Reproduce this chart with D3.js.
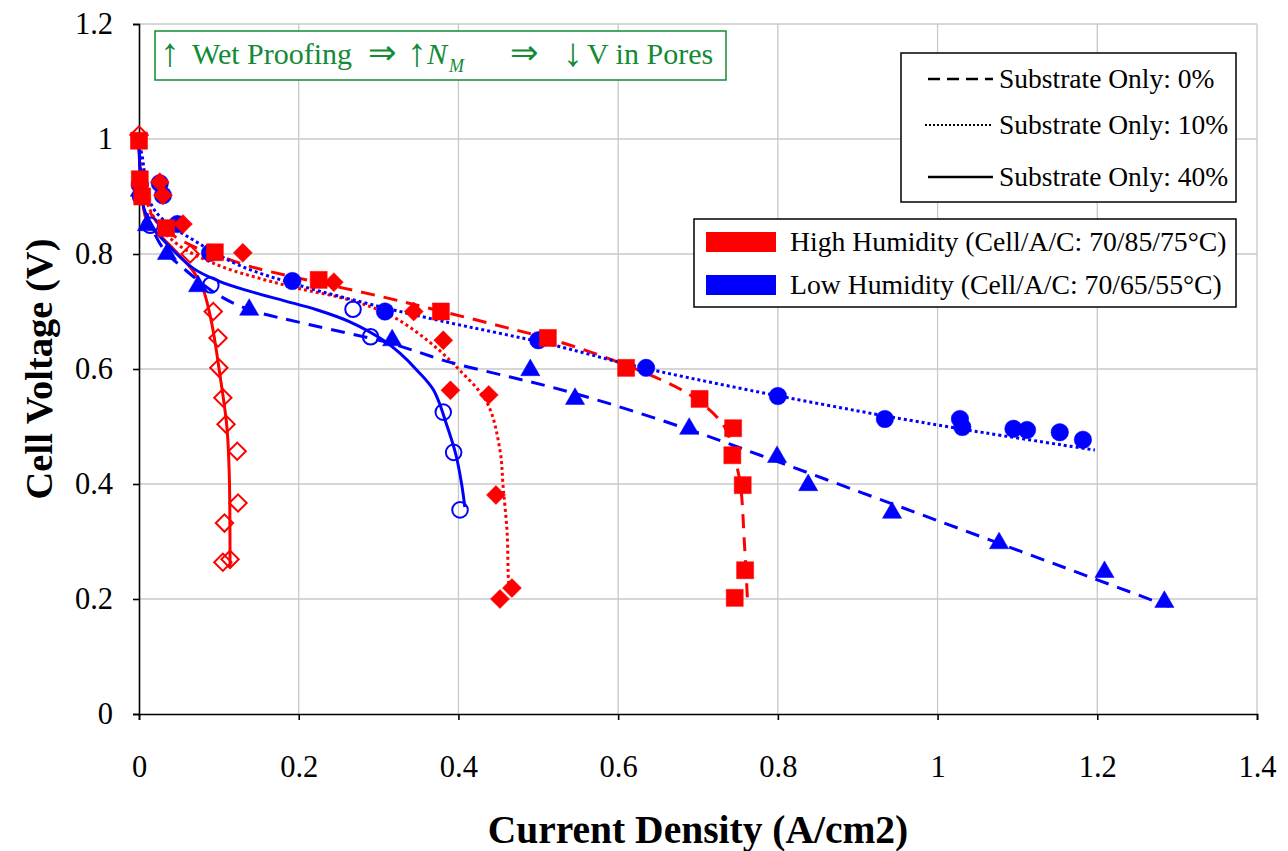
<!DOCTYPE html>
<html><head><meta charset="utf-8">
<script src="https://cdn.jsdelivr.net/npm/d3@7"></script>
<style>body{margin:0;background:#fff}svg{display:block}</style>
</head><body>
<svg id="c" width="1288" height="851"></svg>
<script>
// ---- data ----
const xTicks = [0, 0.2, 0.4, 0.6, 0.8, 1, 1.2, 1.4];
const yTicks = [0, 0.2, 0.4, 0.6, 0.8, 1, 1.2];

// High humidity, 0% (red squares)
const hh0_x = [0, 0.001, 0.004, 0.034, 0.095, 0.225, 0.378, 0.512, 0.61, 0.702, 0.744, 0.743, 0.756, 0.759, 0.746];
const hh0_y = [0.997, 0.93, 0.90, 0.845, 0.803, 0.755, 0.70, 0.654, 0.602, 0.548, 0.497, 0.45, 0.398, 0.25, 0.202];
// High humidity, 10% (red filled diamonds)
const hh10_x = [0.026, 0.03, 0.055, 0.13, 0.244, 0.344, 0.381, 0.39, 0.438, 0.447, 0.467, 0.452];
const hh10_y = [0.925, 0.902, 0.852, 0.802, 0.751, 0.70, 0.65, 0.563, 0.555, 0.381, 0.219, 0.20];
// High humidity, 40% (red open diamonds)
const hh40_x = [0, 0.064, 0.093, 0.099, 0.1, 0.105, 0.109, 0.123, 0.124, 0.107, 0.105, 0.114];
const hh40_y = [1.007, 0.80, 0.70, 0.654, 0.602, 0.55, 0.504, 0.457, 0.367, 0.332, 0.264, 0.269];
// Low humidity, 0% (blue triangles)
const lh0_x = [0.001, 0.01, 0.035, 0.074, 0.138, 0.317, 0.49, 0.546, 0.689, 0.799, 0.838, 0.943, 1.077, 1.209, 1.284];
const lh0_y = [0.91, 0.85, 0.80, 0.744, 0.703, 0.65, 0.598, 0.548, 0.496, 0.447, 0.398, 0.35, 0.297, 0.247, 0.195];
// Low humidity, 10% (blue filled circles)
const lh10_x = [0.001, 0.026, 0.03, 0.048, 0.089, 0.192, 0.308, 0.5, 0.635, 0.8, 0.934, 1.028, 1.031, 1.095, 1.112, 1.153, 1.182];
const lh10_y = [0.92, 0.923, 0.902, 0.852, 0.802, 0.753, 0.70, 0.65, 0.602, 0.553, 0.513, 0.513, 0.499, 0.496, 0.494, 0.49, 0.477];
// Low humidity, 40% (blue open circles)
const lh40_x = [0.002, 0.014, 0.09, 0.268, 0.29, 0.381, 0.394, 0.402];
const lh40_y = [0.90, 0.85, 0.746, 0.704, 0.656, 0.525, 0.455, 0.355];

// fitted model curves
const fhh0_x = [0, 0.003, 0.008, 0.02, 0.04, 0.07, 0.1, 0.14, 0.2, 0.3, 0.38, 0.46, 0.52, 0.6, 0.675, 0.705, 0.733, 0.745, 0.753, 0.758, 0.762];
const fhh0_y = [0.99, 0.93, 0.89, 0.86, 0.835, 0.812, 0.797, 0.778, 0.758, 0.727, 0.70, 0.672, 0.65, 0.612, 0.567, 0.54, 0.50, 0.45, 0.40, 0.30, 0.198];
const fhh10_x = [0.001, 0.004, 0.01, 0.025, 0.05, 0.1, 0.15, 0.2, 0.264, 0.314, 0.361, 0.40, 0.436, 0.452, 0.456, 0.461, 0.463, 0.465];
const fhh10_y = [0.99, 0.93, 0.89, 0.85, 0.815, 0.78, 0.758, 0.74, 0.72, 0.694, 0.65, 0.60, 0.541, 0.459, 0.395, 0.315, 0.228, 0.215];
const fhh40_x = [0, 0.001, 0.003, 0.008, 0.02, 0.035, 0.068, 0.08, 0.091, 0.101, 0.11, 0.113, 0.114];
const fhh40_y = [1.0, 0.95, 0.92, 0.865, 0.84, 0.82, 0.77, 0.74, 0.68, 0.593, 0.50, 0.419, 0.256];
const flh0_x = [0, 0.003, 0.01, 0.03, 0.06, 0.1, 0.139, 0.214, 0.314, 0.389, 0.465, 0.515, 0.586, 0.69, 0.778, 0.903, 1.028, 1.195, 1.29];
const flh0_y = [0.99, 0.93, 0.87, 0.81, 0.77, 0.728, 0.703, 0.677, 0.645, 0.612, 0.586, 0.569, 0.541, 0.494, 0.450, 0.386, 0.322, 0.236, 0.187];
const flh10_x = [0.001, 0.004, 0.014, 0.03, 0.072, 0.126, 0.202, 0.306, 0.39, 0.452, 0.515, 0.619, 0.765, 0.94, 1.037, 1.197];
const flh10_y = [0.99, 0.97, 0.89, 0.86, 0.821, 0.78, 0.745, 0.707, 0.68, 0.662, 0.643, 0.606, 0.563, 0.517, 0.494, 0.459];
const flh40_x = [0, 0.002, 0.006, 0.015, 0.03, 0.068, 0.1, 0.139, 0.181, 0.2225, 0.264, 0.306, 0.327, 0.348, 0.369, 0.386, 0.397, 0.404, 0.408];
const flh40_y = [0.99, 0.93, 0.88, 0.85, 0.825, 0.775, 0.753, 0.735, 0.719, 0.703, 0.682, 0.650, 0.627, 0.598, 0.563, 0.50, 0.45, 0.40, 0.36];

const lineLegend = ["Substrate Only: 0%", "Substrate Only: 10%", "Substrate Only: 40%"];
const colorLegend = ["High Humidity (Cell/A/C: 70/85/75°C)", "Low Humidity (Cell/A/C: 70/65/55°C)"];

// ---- chart ----
const RED = "#ff0000", BLUE = "#0000ff", GREEN = "#138a36";
const svg = d3.select("#c");
const L = 139, R = 1257, T = 24, B = 714;
const x = d3.scaleLinear().domain([0, 1.4]).range([L, R]);
const y = d3.scaleLinear().domain([0, 1.2]).range([B, T]);
const font = "Liberation Serif, Times New Roman, serif";

// grid
svg.append("g").selectAll("line").data(xTicks.slice(1)).join("line")
  .attr("x1", d => x(d)).attr("x2", d => x(d)).attr("y1", T).attr("y2", B)
  .attr("stroke", "#c8c8c8").attr("stroke-width", 1.3);
svg.append("g").selectAll("line").data(yTicks.slice(1)).join("line")
  .attr("x1", L).attr("x2", R).attr("y1", d => y(d)).attr("y2", d => y(d))
  .attr("stroke", "#c8c8c8").attr("stroke-width", 1.3);

// axes
const xAxis = d3.axisBottom(x).tickValues(xTicks).tickSize(6).tickPadding(35).tickFormat(d3.format("~g"));
const yAxis = d3.axisLeft(y).tickValues(yTicks).tickSize(6).tickPadding(20).tickFormat(d3.format("~g"));
const gx = svg.append("g").attr("transform", `translate(0,${B})`).call(xAxis);
const gy = svg.append("g").attr("transform", `translate(${L},0)`).call(yAxis);
[gx, gy].forEach(g => {
  g.attr("font-family", font).attr("font-size", 30);
  g.select(".domain").attr("stroke", "#000").attr("stroke-width", 1.6);
  g.selectAll(".tick line").attr("stroke", "#000").attr("stroke-width", 1.6);
  g.selectAll("text").style("font-family", font).style("font-size", "30.5px").attr("fill", "#000");
});

// titles
svg.append("text").attr("x", x(0.7)).attr("y", 843).attr("text-anchor", "middle")
  .style("font-family", font).style("font-size", "39.5px").attr("font-weight", "bold").text("Current Density (A/cm2)");
svg.append("text").attr("transform", `translate(52,${y(0.6)}) rotate(-90)`).attr("text-anchor", "middle")
  .style("font-family", font).style("font-size", "38.5px").attr("font-weight", "bold").text("Cell Voltage (V)");

// lines
const zip = (xs, ys) => xs.map((v, i) => [v, ys[i]]);
const lineGen = d3.line().x(d => x(d[0])).y(d => y(d[1])).curve(d3.curveCatmullRom.alpha(0.5));
const dashes = { d0: "14,9", d10: "3,3", d40: null };
const fits = [
  [fhh0_x, fhh0_y, RED, "d0"], [fhh10_x, fhh10_y, RED, "d10"], [fhh40_x, fhh40_y, RED, "d40"],
  [flh0_x, flh0_y, BLUE, "d0"], [flh10_x, flh10_y, BLUE, "d10"], [flh40_x, flh40_y, BLUE, "d40"]
];
fits.forEach(([xs, ys, c, k]) => {
  svg.append("path").attr("d", lineGen(zip(xs, ys))).attr("fill", "none")
    .attr("stroke", c).attr("stroke-width", 3).attr("stroke-dasharray", dashes[k]);
});

// markers
const sym = (type, size) => d3.symbol().type(type).size(size)();
function markers(xs, ys, type, size, color, filled, rot) {
  svg.append("g").selectAll("path").data(zip(xs, ys)).join("path")
    .attr("d", sym(type, size))
    .attr("transform", d => `translate(${x(d[0])},${y(d[1])}) rotate(${rot || 0})`)
    .attr("fill", filled ? color : "none").attr("stroke", color).attr("stroke-width", filled ? 0.5 : 2);
}
markers(lh0_x, lh0_y, d3.symbolTriangle, 160, BLUE, true);
markers(lh10_x, lh10_y, d3.symbolCircle, 240, BLUE, true);
markers(lh40_x, lh40_y, d3.symbolCircle, 190, BLUE, false);
markers(hh0_x, hh0_y, d3.symbolSquare, 290, RED, true);
markers(hh10_x, hh10_y, d3.symbolSquare, 180, RED, true, 45);
markers(hh40_x, hh40_y, d3.symbolSquare, 150, RED, false, 45);

// annotation box
const ann = svg.append("g").style("font-family", font).attr("fill", GREEN);
ann.append("rect").attr("x", 155).attr("y", 31).attr("width", 571).attr("height", 49)
  .attr("fill", "#fff").attr("stroke", GREEN).attr("stroke-width", 1.5);
const annParts = [
  { t: "↑", x: 160, s: 40, yy: 66 }, { t: "Wet Proofing", x: 192, s: 30 }, { t: "⇒", x: 368, s: 34 }, { t: "↑", x: 407, s: 40, yy: 66 },
  { t: "N", x: 427, it: true, s: 30 }, { t: "M", x: 449, it: true, sub: true, s: 18 }, { t: "⇒", x: 510, s: 34 },
  { t: "↓", x: 563, s: 40, yy: 66 }, { t: "V in Pores", x: 587, s: 30 }
];
annParts.forEach(p => {
  ann.append("text").attr("x", p.x).attr("y", p.sub ? 72 : (p.yy || 64))
    .style("font-style", p.it ? "italic" : "normal").style("font-size", p.s + "px").text(p.t);
});

// legend 1 (line styles)
const lg1 = svg.append("g");
lg1.append("rect").attr("x", 901).attr("y", 53).attr("width", 335).attr("height", 149)
  .attr("fill", "#fff").attr("stroke", "#000").attr("stroke-width", 1.5);
const lgY = [79, 125, 177];
const lgDash = ["12,7", "2,2", null];
lineLegend.forEach((t, i) => {
  lg1.append("line").attr("x1", i === 1 ? 925 : 928).attr("x2", 993).attr("y1", lgY[i]).attr("y2", lgY[i])
    .attr("stroke", "#000").attr("stroke-width", i === 1 ? 2 : 2.6).attr("stroke-dasharray", lgDash[i]);
  lg1.append("text").attr("x", 999).attr("y", lgY[i] + 9).style("font-family", font).style("font-size", "27.5px").text(t);
});

// legend 2 (colours)
const lg2 = svg.append("g");
lg2.append("rect").attr("x", 694).attr("y", 219).attr("width", 542).attr("height", 88)
  .attr("fill", "#fff").attr("stroke", "#000").attr("stroke-width", 1.5);
const cl = [RED, BLUE];
colorLegend.forEach((t, i) => {
  const yy = 242 + i * 43;
  lg2.append("rect").attr("x", 706).attr("y", yy - 10).attr("width", 70).attr("height", 20).attr("fill", cl[i]);
  lg2.append("text").attr("x", 790).attr("y", yy + 9).style("font-family", font).style("font-size", "27.7px").text(t);
});
</script>
</body></html>
